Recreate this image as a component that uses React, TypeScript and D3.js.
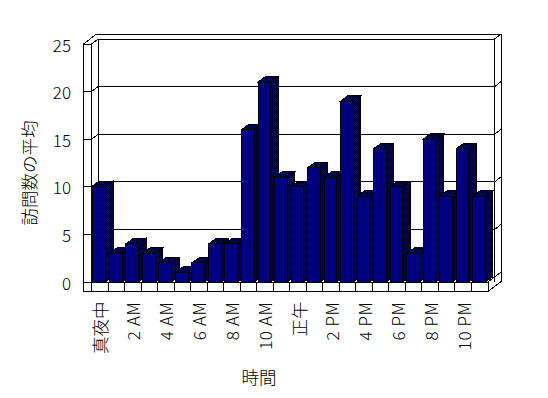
import React from "react";
import * as d3 from "d3";

const categories: string[] = Array.from({ length: 24 }, (_, i) => String(i));
const values: number[] = [10, 3, 4, 3, 2, 1, 2, 4, 4, 16, 21, 11, 10, 12, 11, 19, 9, 14, 10, 3, 15, 9, 14, 9];
const xTickLabels: string[] = ["真夜中", "2 AM", "4 AM", "6 AM", "8 AM", "10 AM", "正午", "2 PM", "4 PM", "6 PM", "8 PM", "10 PM"];
const yTicks: number[] = [0, 5, 10, 15, 20, 25];
const yTitle = "訪問数の平均";
const xTitle = "時間";

const W = 548;
const H = 398;
const FONT = "'Noto Sans CJK JP', 'Noto Sans', sans-serif";

export default function App() {
  const y = d3.scaleLinear().domain([0, 25]).range([282, 44]);
  const x = d3.scaleBand<string>().domain(categories).range([91.5, 488]).padding(0);
  const bw = x.bandwidth();

  const frontL = 83.5;
  const frontR = 91.5;
  const xEnd = 488;
  const wdx = 6.7, wdy = -5; // inner wall offset
  const odx = 13, ody = -10; // outer offset
  const bdx = 7.5, bdy = -5.5; // bar depth
  const floorBottom = 291.5;
  const base = y(0);
  const top = y(25);

  const L = (x1: number, y1: number, x2: number, y2: number, k: string) => (
    <line key={k} x1={x1} y1={y1} x2={x2} y2={y2} stroke="#000" strokeWidth={1} />
  );

  const lines: JSX.Element[] = [];
  lines.push(L(frontR + wdx, top + wdy, frontR + wdx, base + wdy, "bwl"));
  lines.push(L(xEnd + wdx, top + wdy, xEnd + wdx, base + wdy, "bwr"));
  lines.push(L(frontL + odx, top + ody, xEnd + odx, top + ody, "otop"));
  lines.push(L(xEnd + odx, top + ody, xEnd + odx, floorBottom + ody, "oright"));
  lines.push(L(frontL, top, frontL + odx, top + ody, "otl"));
  lines.push(L(xEnd + wdx, top + wdy, xEnd + odx, top + ody, "otr"));
  yTicks.forEach((v) => {
    const yy = y(v);
    lines.push(L(frontR + wdx, yy + wdy, xEnd + wdx, yy + wdy, "g" + v));
    lines.push(L(frontR, yy, frontR + wdx, yy + wdy, "gd" + v));
    lines.push(L(xEnd + wdx, yy + wdy, xEnd + odx, yy + ody, "gr" + v));
  });
  lines.push(L(xEnd, base, xEnd + wdx, base + wdy, "fr1"));
  lines.push(L(xEnd, floorBottom, xEnd + odx, floorBottom + ody, "fr2"));
  lines.push(L(xEnd + wdx, base + wdy, xEnd + wdx, base + wdy + 5, "fr3"));

  const pts = (p: number[][]) => p.map((q) => q.join(",")).join(" ");

  return (
    <svg
      width={W}
      height={H}
      style={{ position: "absolute", left: 0, top: 0, background: "#fff" }}
      shapeRendering="crispEdges"
    >
      <defs>
        <pattern id="dither" width={2} height={2} patternUnits="userSpaceOnUse">
          <rect width={2} height={2} fill="#000080" />
          <rect width={1} height={1} fill="#000" />
          <rect x={1} y={1} width={1} height={1} fill="#000" />
        </pattern>
      </defs>
      <rect width={W} height={H} fill="#fff" />
      {lines}
      <rect x={frontL} y={top} width={frontR - frontL} height={floorBottom - top} fill="#fff" stroke="#000" />
      {yTicks.map((v) => L(frontL, y(v), frontR, y(v), "t" + v))}
      {L(frontR, top, frontR, base, "lwi")}
      <rect x={frontR} y={base} width={xEnd - frontR} height={floorBottom - base} fill="#fff" stroke="#000" />
      {L(frontL, floorBottom, xEnd, floorBottom, "fb")}
      {categories.map((c, i) =>
        L((x(c) as number) + bw, base, (x(c) as number) + bw, floorBottom, "ft" + i)
      )}
      {values.map((v, i) => {
        const x0 = (x(categories[i]) as number) + 1.3;
        const x1 = x0 + 12.7;
        const yt = y(v);
        return (
          <g key={"b" + i} stroke="#000" strokeWidth={1}>
            <polygon
              points={pts([[x0, yt], [x1, yt], [x1 + bdx, yt + bdy], [x0 + bdx, yt + bdy]])}
              fill="url(#dither)"
            />
            <polygon
              points={pts([[x1, yt], [x1 + bdx, yt + bdy], [x1 + bdx, base + bdy], [x1, base]])}
              fill="url(#dither)"
            />
            <rect x={x0} y={yt} width={x1 - x0} height={base - yt} fill="#000080" />
          </g>
        );
      })}
      {yTicks.map((v) => (
        <text
          key={"yl" + v}
          x={71}
          y={y(v)}
          textAnchor="end"
          dominantBaseline="central"
          fontFamily={FONT}
          fontWeight={300}
          fontSize={17}
          fill="#000"
        >
          {v}
        </text>
      ))}
      {xTickLabels.map((t, k) => {
        const c = categories[k * 2];
        const cx = (x(c) as number) + bw / 2;
        const cjk = /[^\x00-\x7f]/.test(t);
        return (
          <text
            key={"xl" + k}
            transform={`translate(${cx},301.5) rotate(-90)`}
            textAnchor="end"
            dominantBaseline="central"
            fontFamily={FONT}
            fontWeight={300}
            fontSize={cjk ? 17.5 : 17}
            letterSpacing={cjk ? 0 : 0.6}
            fill="#000"
          >
            {t}
          </text>
        );
      })}
      <text
        transform="translate(28,173) rotate(-90)"
        textAnchor="middle"
        dominantBaseline="central"
        fontFamily={FONT}
        fontWeight={300}
        fontSize={17.5}
        fill="#000"
      >
        {yTitle}
      </text>
      <text
        x={259}
        y={376}
        textAnchor="middle"
        dominantBaseline="central"
        fontFamily={FONT}
        fontWeight={300}
        fontSize={17.5}
        fill="#000"
      >
        {xTitle}
      </text>
    </svg>
  );
}
